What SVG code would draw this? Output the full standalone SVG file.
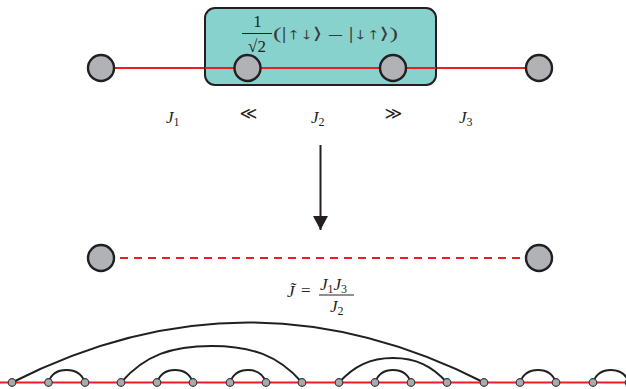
<svg xmlns="http://www.w3.org/2000/svg" width="626" height="389" viewBox="0 0 626 389">
<defs>
<style>
.big{fill:#b1b2b5;stroke:#231f20;stroke-width:2.4}
.sm{fill:#a9aaad;stroke:#3a3a3a;stroke-width:1.2}
.red{stroke:#ec1c24;stroke-width:2;fill:none}
.arc{stroke:#231f20;stroke-width:2;fill:none}
.t{font-family:"Liberation Serif","DejaVu Serif","DejaVu Sans",serif;font-size:17px;fill:#231f20}
.k{font-family:"Liberation Serif","DejaVu Serif","DejaVu Sans",serif;font-size:16px;fill:#3a3a3a}
.i{font-style:italic}
.s{font-size:12px}
</style>
<marker id="ah2" viewBox="0 0 14 15" refX="14" refY="7.5" markerWidth="14" markerHeight="15" orient="auto" markerUnits="userSpaceOnUse">
<path d="M0,0 L14,7.5 L0,15 Z" fill="#231f20"/>
</marker>
</defs>
<g id="connectors">
<line class="red" x1="101" y1="68" x2="205" y2="68"/>
<line class="red" x1="436" y1="68" x2="539" y2="68"/>
<line x1="320.5" y1="145" x2="320.5" y2="230" stroke="#231f20" stroke-width="2" marker-end="url(#ah2)"/>
<line class="red" x1="120" y1="258" x2="527" y2="258" stroke-dasharray="8,6" stroke-width="2.2"/>
<line class="red" x1="0" y1="382.5" x2="626" y2="382.5"/>
<path class="arc" d="M12,382.5 Q248,262.5 484,382.5"/>
<path class="arc" d="M121,382.5 C145,355 172,346 211.5,346 C251,346 278,355 302,382.5"/>
<path class="arc" d="M339,382.5 C354,366 370,358 393,358 C416,358 432,366 447,382.5"/>
<path class="arc" d="M48.5,382.5 C51,374 58,370 66.5,370 C75,370 82,374 85,382.5"/>
<path class="arc" d="M157,382.5 C160,374 167,370 175,370 C183,370 190,374 193,382.5"/>
<path class="arc" d="M230,382.5 C233,374 240,370 248,370 C256,370 263,374 266,382.5"/>
<path class="arc" d="M375,382.5 C378,374 385,370 393,370 C401,370 408,374 411,382.5"/>
<path class="arc" d="M520,382.5 C523,374 530,370 538,370 C546,370 553,374 556,382.5"/>
<path class="arc" d="M593,382.5 C596,374 603,370 611,370 C619,370 626,374 629,382.5"/>
</g>
<g id="box">
<rect x="205" y="8" width="231" height="77" rx="10" fill="#88d2ce" stroke="#231f20" stroke-width="2"/>
<line class="red" x1="205" y1="68" x2="436" y2="68"/>
<text class="t" x="257.5" y="27" text-anchor="middle" font-size="19">1</text>
<line x1="242" y1="33.5" x2="272" y2="33.5" stroke="#231f20" stroke-width="1"/>
<text class="t" x="257" y="52" text-anchor="middle" font-size="19">√2</text>
<text class="k" x="273" y="39" textLength="125" lengthAdjust="spacingAndGlyphs">(|↑↓⟩ – |↓↑⟩)</text>
</g>
<g id="n1"><circle class="big" cx="101" cy="68" r="13"/></g>
<g id="n2"><circle class="big" cx="247.5" cy="68" r="13"/></g>
<g id="n3"><circle class="big" cx="393" cy="68" r="13"/></g>
<g id="n4"><circle class="big" cx="539" cy="68" r="13"/></g>
<g id="labels">
<text class="t" x="166" y="123" font-size="18"><tspan class="i">J</tspan><tspan class="s" dy="3">1</tspan></text>
<text class="t" x="248.5" y="119" text-anchor="middle">≪</text>
<text class="t" x="311" y="123" font-size="18"><tspan class="i">J</tspan><tspan class="s" dy="3">2</tspan></text>
<text class="t" x="393.5" y="119" text-anchor="middle">≫</text>
<text class="t" x="459" y="123" font-size="18"><tspan class="i">J</tspan><tspan class="s" dy="3">3</tspan></text>
</g>
<g id="m1"><circle class="big" cx="101" cy="258" r="13"/></g>
<g id="m2"><circle class="big" cx="539" cy="258" r="13"/></g>
<g id="formula">
<text class="t i" x="287" y="297">J̃</text>
<text class="t" x="301" y="296">=</text>
<text class="t" x="320" y="290"><tspan class="i">J</tspan><tspan class="s" dy="3">1</tspan><tspan class="i" dy="-3">J</tspan><tspan class="s" dy="3">3</tspan></text>
<line x1="319" y1="295" x2="354" y2="295" stroke="#231f20" stroke-width="1"/>
<text class="t" x="330" y="312"><tspan class="i">J</tspan><tspan class="s" dy="3">2</tspan></text>
</g>
<g id="chain">
<circle class="sm" cx="12" cy="382.5" r="3.8"/>
<circle class="sm" cx="48.5" cy="382.5" r="3.8"/>
<circle class="sm" cx="85" cy="382.5" r="3.8"/>
<circle class="sm" cx="121" cy="382.5" r="3.8"/>
<circle class="sm" cx="157" cy="382.5" r="3.8"/>
<circle class="sm" cx="193" cy="382.5" r="3.8"/>
<circle class="sm" cx="230" cy="382.5" r="3.8"/>
<circle class="sm" cx="266" cy="382.5" r="3.8"/>
<circle class="sm" cx="302" cy="382.5" r="3.8"/>
<circle class="sm" cx="339" cy="382.5" r="3.8"/>
<circle class="sm" cx="375" cy="382.5" r="3.8"/>
<circle class="sm" cx="411" cy="382.5" r="3.8"/>
<circle class="sm" cx="447" cy="382.5" r="3.8"/>
<circle class="sm" cx="484" cy="382.5" r="3.8"/>
<circle class="sm" cx="520" cy="382.5" r="3.8"/>
<circle class="sm" cx="556" cy="382.5" r="3.8"/>
<circle class="sm" cx="593" cy="382.5" r="3.8"/>
<circle class="sm" cx="629" cy="382.5" r="3.8"/>
</g>
</svg>
